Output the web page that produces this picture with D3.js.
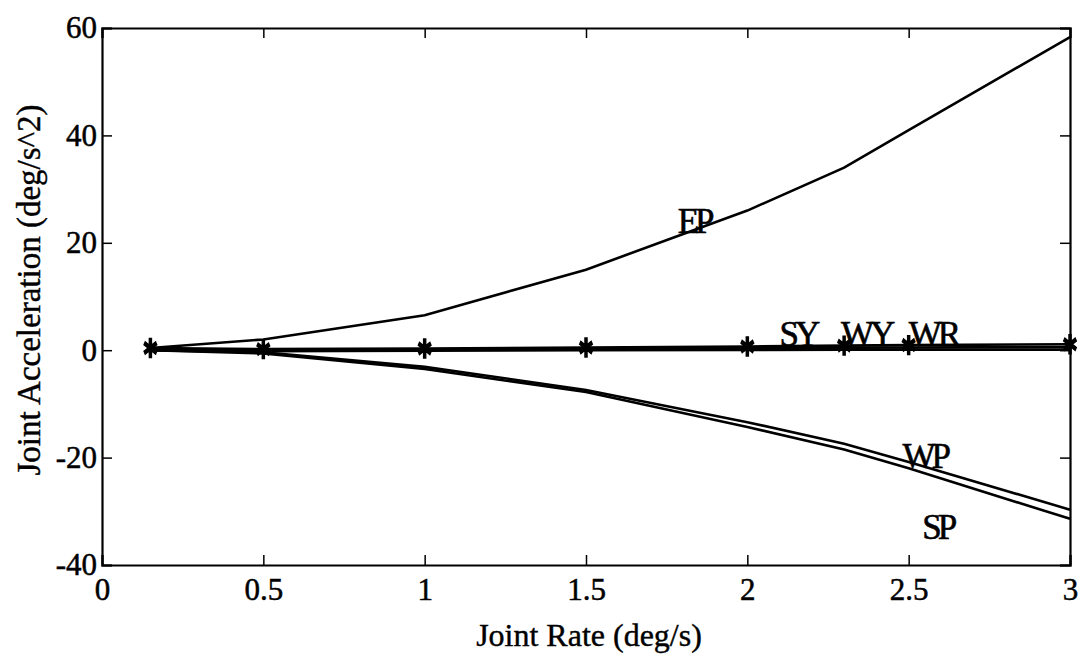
<!DOCTYPE html>
<html>
<head>
<meta charset="utf-8">
<script src="https://cdn.jsdelivr.net/npm/d3@7"></script>
<style>
  body { margin: 0; background: #fff; }
  text { font-family: "Liberation Serif", "DejaVu Serif", serif; fill: #000; }
</style>
</head>
<body>
<div id="vis"></div>
<script>
// joint rate samples (deg/s)
const rates = [0.15, 0.5, 1.0, 1.5, 2.0, 2.3, 2.5, 3.0];

// joint acceleration per joint (deg/s^2)
const ep = [0.4, 2.0, 6.5, 15.0, 26.0, 34.0, 41.0, 58.3];
const wp = [0.0, -0.4, -3.1, -7.4, -13.4, -17.4, -20.8, -29.7];
const sp = [0.0, -0.6, -3.5, -7.8, -14.3, -18.5, -22.0, -31.4];
const sy = [0.4, 0.2, 0.3, 0.5, 0.7, 0.85, 0.95, 1.1];
const wy = [0.2, 0.0, 0.1, 0.2, 0.35, 0.45, 0.5, 0.6];
const wr = [0.0, -0.2, -0.1, 0.0, 0.05, 0.1, 0.1, 0.1];

const xTicks = [0, 0.5, 1, 1.5, 2, 2.5, 3];
const yTicks = [-40, -20, 0, 20, 40, 60];

const series = [
  {name: "EP", values: ep},
  {name: "WP", values: wp},
  {name: "SP", values: sp},
  {name: "SY", values: sy},
  {name: "WY", values: wy},
  {name: "WR", values: wr}
];

// where the curve names sit (data coordinates)
const labels = [
  {text: "EP", x: 1.835, y: 21.8},
  {text: "SY", x: 2.157, y: 0.7},
  {text: "WY", x: 2.368, y: 0.7},
  {text: "WR", x: 2.575, y: 0.7},
  {text: "WP", x: 2.55, y: -21.9},
  {text: "SP", x: 2.59, y: -35.2}
];

const W = 1081, H = 662;
const margin = {top: 28, right: 11, bottom: 97, left: 102};

const svg = d3.select("#vis").append("svg")
    .attr("width", W)
    .attr("height", H);

const x = d3.scaleLinear().domain([0, 3]).range([margin.left, W - margin.right]);
const y = d3.scaleLinear().domain([-40, 60]).range([H - margin.bottom, margin.top]);

// axes: ticks point inward, mirrored on top and right
const tickLen = 10;
const fmt = d => String(d);
svg.append("g")
    .attr("transform", "translate(0," + y(-40) + ")")
    .call(d3.axisBottom(x).tickValues(xTicks).tickSize(-tickLen).tickPadding(13).tickFormat(fmt))
    .call(g => g.selectAll("text").attr("font-size", 31));
svg.append("g")
    .attr("transform", "translate(0," + y(60) + ")")
    .call(d3.axisTop(x).tickValues(xTicks).tickSize(-tickLen).tickFormat(""));
svg.append("g")
    .attr("transform", "translate(" + x(0) + ",0)")
    .call(d3.axisLeft(y).tickValues(yTicks).tickSize(-tickLen).tickPadding(5).tickFormat(fmt))
    .call(g => g.selectAll("text").attr("font-size", 31));
svg.append("g")
    .attr("transform", "translate(" + x(3) + ",0)")
    .call(d3.axisRight(y).tickValues(yTicks).tickSize(-tickLen).tickFormat(""));

svg.selectAll(".domain").attr("stroke", "#000").attr("stroke-width", 2.2);
svg.selectAll(".tick line").attr("stroke", "#000").attr("stroke-width", 1.5);
svg.selectAll(".tick text")
    .attr("font-family", "Liberation Serif")
    .attr("fill", "#000")
    .attr("stroke", "#000")
    .attr("stroke-width", 0.5);

// curves
const line = d3.line()
    .x((d, i) => x(rates[i]))
    .y(d => y(d));

svg.selectAll(".curve")
    .data(series)
  .enter().append("path")
    .attr("class", "curve")
    .attr("d", d => line(d.values))
    .attr("fill", "none")
    .attr("stroke", "#000")
    .attr("stroke-width", 2.6);

// star markers on the SY samples
svg.selectAll(".star")
    .data(sy)
  .enter().append("path")
    .attr("class", "star")
    .attr("transform", (d, i) => "translate(" + x(rates[i]) + "," + y(d) + ") scale(1,1.4)")
    .attr("d", d3.symbol(d3.symbolAsterisk, 150))
    .attr("fill", "none")
    .attr("stroke", "#000")
    .attr("stroke-width", 3.5);

// curve names
svg.selectAll(".lbl")
    .data(labels)
  .enter().append("text")
    .attr("class", "lbl")
    .attr("x", d => x(d.x))
    .attr("y", d => y(d.y))
    .attr("text-anchor", "middle")
    .attr("font-size", 35)
    .attr("letter-spacing", -4)
    .attr("stroke", "#000")
    .attr("stroke-width", 0.6)
    .text(d => d.text);

// axis titles
svg.append("text")
    .attr("x", 589)
    .attr("y", 646)
    .attr("text-anchor", "middle")
    .attr("font-size", 32)
    .attr("stroke", "#000")
    .attr("stroke-width", 0.4)
    .text("Joint Rate (deg/s)");

svg.append("text")
    .attr("transform", "translate(40,290) rotate(-90)")
    .attr("text-anchor", "middle")
    .attr("font-size", 33)
    .attr("stroke", "#000")
    .attr("stroke-width", 0.4)
    .text("Joint Acceleration (deg/s^2)");
</script>
</body>
</html>
